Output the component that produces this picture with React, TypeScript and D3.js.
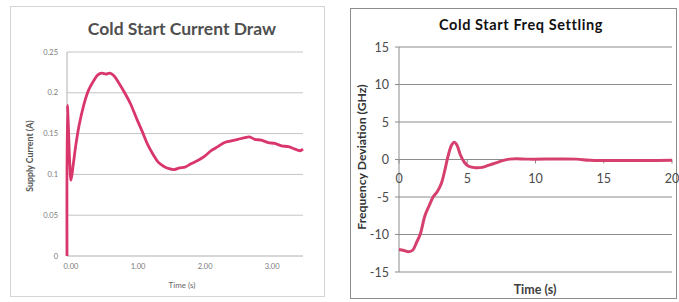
import React from "react";
import * as d3 from "d3";

// left chart: supply current (A) vs time (s)
const currentTime = [0, 0.005, 0.02, 0.04, 0.06, 0.09, 0.13, 0.18, 0.25, 0.32, 0.4, 0.46, 0.52, 0.58, 0.64, 0.7, 0.78, 0.86, 0.95, 1.04, 1.12, 1.2, 1.28, 1.36, 1.44, 1.52, 1.6, 1.68, 1.76, 1.85, 1.95, 2.05, 2.15, 2.25, 2.35, 2.45, 2.55, 2.65, 2.72, 2.8, 2.9, 3.0, 3.1, 3.2, 3.3, 3.4, 3.47, 3.52];
const currentValues = [0, 0.185, 0.16, 0.115, 0.093, 0.11, 0.135, 0.16, 0.185, 0.203, 0.215, 0.222, 0.224, 0.223, 0.224, 0.221, 0.211, 0.2, 0.186, 0.168, 0.153, 0.137, 0.125, 0.115, 0.11, 0.107, 0.106, 0.108, 0.109, 0.113, 0.117, 0.122, 0.129, 0.134, 0.139, 0.141, 0.143, 0.145, 0.146, 0.143, 0.142, 0.139, 0.138, 0.135, 0.134, 0.131, 0.129, 0.131];
const currentYTicks = [0, 0.05, 0.1, 0.15, 0.2, 0.25];
const currentYLabels = ["0", "0.05", "0.1", "0.15", "0.2", "0.25"];
const currentXTicks = [0, 1, 2, 3];
const currentXLabels = ["0.00", "1.00", "2.00", "3.00"];

// right chart: frequency deviation (GHz) vs time (s)
const freqTime = [0, 0.3, 0.7, 1.0, 1.3, 1.55, 1.9, 2.2, 2.5, 2.8, 3.1, 3.35, 3.6, 3.85, 4.05, 4.25, 4.5, 4.8, 5.1, 5.6, 6.1, 6.6, 7.1, 7.6, 8.1, 8.6, 9.5, 13, 14, 20];
const freqValues = [-12, -12.1, -12.3, -12.1, -11, -10, -7.5, -6.2, -5, -4.3, -3.2, -1.5, 0.5, 1.9, 2.3, 1.9, 0.6, -0.4, -0.9, -1.1, -1.05, -0.75, -0.45, -0.15, 0.05, 0.1, 0.05, 0.05, -0.1, -0.1];
const freqYTicks = [-15, -10, -5, 0, 5, 10, 15];
const freqXTicks = [0, 5, 10, 15, 20];

const FONT = "Lato, 'Open Sans', sans-serif";

function CurrentChart() {
  const x = d3.scaleLinear().domain([0, 3.52]).range([67, 303]);
  const y = d3.scaleLinear().domain([0, 0.25]).range([256, 52]);
  const pts = currentTime.map((t, i) => [t, currentValues[i]] as [number, number]);
  const line = d3
    .line<[number, number]>()
    .x(d => x(d[0]))
    .y(d => y(d[1]))
    .curve(d3.curveCatmullRom.alpha(0.5));
  return (
    <g>
      <rect x={10.5} y={6.5} width={314} height={290} fill="#fff" stroke="#d4d4d4" />
      <text x={182} y={35} textAnchor="middle" fontFamily={FONT} fontWeight="bold" fontSize={17.5} fill="#4f4f4f">
        Cold Start Current Draw
      </text>
      {currentYTicks.map((v, i) => (
        <g key={v}>
          {v > 0 && <line x1={67} x2={303} y1={y(v)} y2={y(v)} stroke="#c4c4c4" strokeWidth={1} />}
          <text x={58} y={y(v) + 2.5} textAnchor="end" fontFamily={FONT} fontSize={7.5} fill="#7a7a7a">
            {currentYLabels[i]}
          </text>
        </g>
      ))}
      <line x1={67} x2={67} y1={52} y2={256} stroke="#b0b0b0" />
      <line x1={67} x2={303} y1={256} y2={256} stroke="#b0b0b0" />
      {currentXTicks.map((v, i) => (
        <text key={v} x={x(v) + 4} y={269} textAnchor="middle" fontFamily={FONT} fontSize={7.5} fill="#7a7a7a">
          {currentXLabels[i]}
        </text>
      ))}
      <text x={182} y={288} textAnchor="middle" fontFamily={FONT} fontSize={8} fill="#666">
        Time (s)
      </text>
      <text
        transform="translate(33,156) rotate(-90)"
        textAnchor="middle"
        fontFamily={FONT}
        fontSize={8.8}
        fontWeight="bold"
        fill="#555"
      >
        Supply Current (A)
      </text>
      <path d={line(pts) || ""} fill="none" stroke="#d9366b" strokeWidth={2.8} strokeLinejoin="round" />
    </g>
  );
}

function FreqChart() {
  const x = d3.scaleLinear().domain([0, 20]).range([399, 672]);
  const y = d3.scaleLinear().domain([-15, 15]).range([272, 47]);
  const pts = freqTime.map((t, i) => [t, freqValues[i]] as [number, number]);
  const line = d3
    .line<[number, number]>()
    .x(d => x(d[0]))
    .y(d => y(d[1]))
    .curve(d3.curveCatmullRom.alpha(0.5));
  return (
    <g>
      <rect x={350.5} y={8.5} width={326} height={290} fill="#fff" stroke="#8c8c8c" />
      <text x={521} y={30} textAnchor="middle" fontFamily={FONT} fontWeight="bold" fontSize={14.5} letterSpacing={0.6} fill="#111">
        Cold Start Freq Settling
      </text>
      {freqYTicks.map(v => (
        <g key={v}>
          <line x1={395} x2={672} y1={y(v)} y2={y(v)} stroke="#8c8c8c" strokeWidth={1} />
          <text x={389} y={y(v) + 4.5} textAnchor="end" fontFamily={FONT} fontSize={12.5} fill="#4a4a4a">
            {v}
          </text>
        </g>
      ))}
      <line x1={399} x2={399} y1={47} y2={272} stroke="#8c8c8c" />
      {freqXTicks.map(v => (
        <g key={v}>
          <line x1={x(v)} x2={x(v)} y1={y(0)} y2={y(0) + 4} stroke="#8c8c8c" />
          <text x={x(v)} y={y(0) + 23} textAnchor="middle" fontFamily={FONT} fontSize={12.5} fill="#4a4a4a">
            {v}
          </text>
        </g>
      ))}
      <text x={535} y={294} textAnchor="middle" fontFamily={FONT} fontWeight="bold" fontSize={12.5} fill="#404040">
        Time (s)
      </text>
      <text
        transform="translate(366,157) rotate(-90)"
        textAnchor="middle"
        fontFamily={FONT}
        fontSize={12.2}
        fontWeight="bold"
        fill="#333"
      >
        Frequency Deviation (GHz)
      </text>
      <path d={line(pts) || ""} fill="none" stroke="#d6406e" strokeWidth={3} strokeLinejoin="round" />
    </g>
  );
}

export default function App() {
  return (
    <svg
      width={679}
      height={302}
      style={{ position: "absolute", left: 0, top: 0, background: "#fff" }}
    >
      <rect width={679} height={302} fill="#fff" />
      <CurrentChart />
      <FreqChart />
    </svg>
  );
}
